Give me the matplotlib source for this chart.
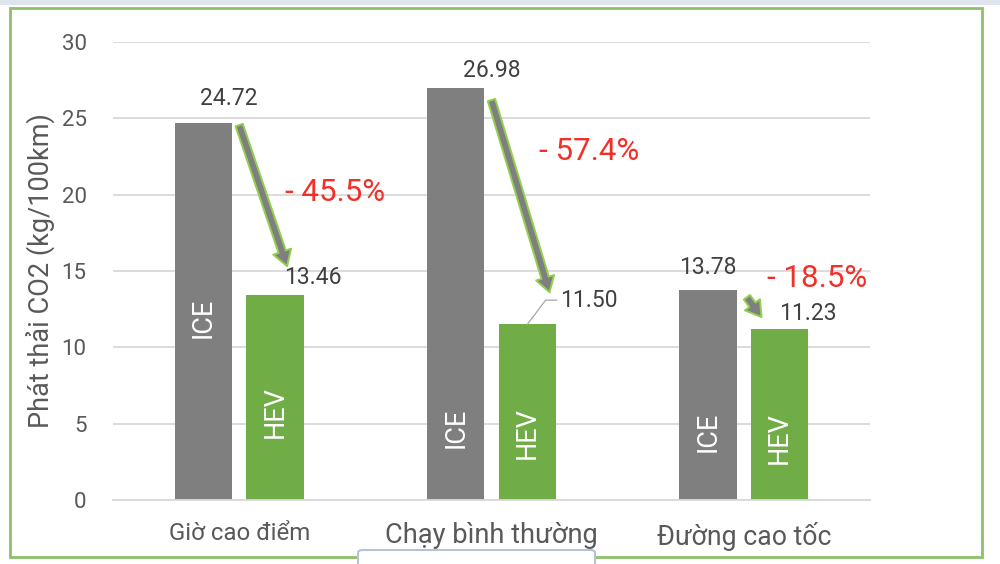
import matplotlib
matplotlib.use("Agg")
import matplotlib.pyplot as plt
from matplotlib.patches import Rectangle, FancyBboxPatch
import numpy as np

plt.rcParams['font.family'] = ['Roboto', 'DejaVu Sans']

# ---- data ----
categories = ["Giờ cao điểm", "Chạy bình thường", "Đường cao tốc"]
ice_values = [24.72, 26.98, 13.78]
hev_values = [13.46, 11.50, 11.23]
pct_labels = ["- 45.5%", "- 57.4%", "- 18.5%"]
series_names = ["ICE", "HEV"]
y_ticks = [0, 5, 10, 15, 20, 25, 30]
y_label = "Phát thải CO2 (kg/100km)"

# ---- style ----
ICE_COLOR = "#7f7f7f"
HEV_COLOR = "#70ad47"
GRID = "#d9d9d9"
TXT = "#404040"
TICK = "#595959"
RED = "#f2302a"

W, H = 1000, 564
fig = plt.figure(figsize=(W / 100, H / 100), dpi=100)
ax = fig.add_axes([113 / W, 1 - 500 / H, 757 / W, 458 / H])

x = np.arange(len(categories))
off = 0.142
bw = 0.226
ice_bars = ax.bar(x - off, ice_values, bw, color=ICE_COLOR, zorder=2)
hev_bars = ax.bar(x + off, hev_values, bw, color=HEV_COLOR, zorder=2)

ax.set_xlim(-0.5, len(categories) - 0.5)
ax.set_ylim(0, 30)
ax.set_yticks(y_ticks)
ax.yaxis.grid(True, color=GRID, lw=1.3, zorder=0)
ax.set_axisbelow(True)
for s in ["top", "right", "left"]:
    ax.spines[s].set_visible(False)
ax.spines["bottom"].set_color(GRID)
ax.spines["bottom"].set_linewidth(1.3)
ax.tick_params(axis="both", length=0)
ax.tick_params(axis="y", labelsize=16, labelcolor=TICK, pad=19)
ax.set_xticks(x)
ax.set_xticklabels(categories, color=TICK)
cat_sizes = [17.3, 19.6, 19.2]
for lab, fs in zip(ax.get_xticklabels(), cat_sizes):
    lab.set_fontsize(fs)
ax.tick_params(axis="x", pad=15.5)

ax.set_ylabel(y_label, fontsize=19.5, color=TICK)
ax.yaxis.set_label_coords((40 - 113) / 757, 0.5)
ax.yaxis.label.set_va("center")

# value labels (offsets in points from bar top center)
ice_lab_off = [(18, 17), (26, 13), (0, 16)]
hev_lab_off = [(27, 12.5), (44, 17.5), (20.5, 11)]
for i in range(len(categories)):
    ax.annotate(f"{ice_values[i]:.2f}", (x[i] - off, ice_values[i]),
                xytext=ice_lab_off[i], textcoords="offset points",
                ha="center", va="center", fontsize=16.5, color=TXT)
    if i == 1:
        ax.annotate(f"{hev_values[i]:.2f}", (x[i] + off, hev_values[i]),
                    xytext=hev_lab_off[i], textcoords="offset points",
                    ha="center", va="center", fontsize=16.5, color=TXT,
                    arrowprops=dict(arrowstyle="-", color="#a6a6a6", lw=0.9,
                                    relpos=(0, 0.5), shrinkA=0, shrinkB=0,
                                    connectionstyle="angle,angleA=180,angleB=53,rad=0"))
    else:
        ax.annotate(f"{hev_values[i]:.2f}", (x[i] + off, hev_values[i]),
                    xytext=hev_lab_off[i], textcoords="offset points",
                    ha="center", va="center", fontsize=16.5, color=TXT)

# in-bar series labels
ice_txt_y = [11.9, 4.75, 4.45]
hev_txt_y = [5.76, 4.39, 4.06]
for i in range(len(categories)):
    ax.text(x[i] - off, ice_txt_y[i], series_names[0], rotation=90, ha="center",
            va="center", color="white", fontsize=19.5, zorder=3)
    ax.text(x[i] + off, hev_txt_y[i], series_names[1], rotation=90, ha="center",
            va="center", color="white", fontsize=19.5, zorder=3)

# arrows ICE -> HEV
tail_dx = [0.0, 0.0, 0.012]
tail_dy = [-0.16, -0.78, -0.5]
tip_dx = [0.19, 0.23, 0.07]
tip_dy = [1.86, 2.1, 0.75]
for i in range(len(categories)):
    ax.annotate("", xy=(x[i] + tip_dx[i], hev_values[i] + tip_dy[i]),
                xytext=(x[i] + tail_dx[i], ice_values[i] + tail_dy[i]),
                arrowprops=dict(arrowstyle="simple,head_length=1.1,head_width=1.35,tail_width=0.55",
                                fc=ICE_COLOR, ec="#92d050", lw=1.4,
                                shrinkA=0, shrinkB=0, mutation_scale=10),
                zorder=4)

# percentage labels
pct_x = [0.38, 1.387, 2.29]
pct_y = [20.17, 22.8, 14.54]
for i in range(len(categories)):
    ax.text(pct_x[i], pct_y[i], pct_labels[i], ha="center", va="center",
            fontsize=22.5, color=RED, zorder=5)

# decorations: top bar, green frame, bottom box
fig.patches.append(Rectangle((0, 1 - 5 / H), 1, 5 / H, transform=fig.transFigure,
                             facecolor="#dfe5ec", edgecolor="none", zorder=0))
fig.patches.append(Rectangle((10 / W, 1 - 557 / H), 972 / W, 549 / H,
                             transform=fig.transFigure, facecolor="none",
                             edgecolor="#8fc06a", lw=2, zorder=1))
fig.patches.append(FancyBboxPatch((358 / W, -0.02), 237 / W, 0.02 + 14 / H,
                                  boxstyle="round,pad=0,rounding_size=0.005",
                                  transform=fig.transFigure, facecolor="white",
                                  edgecolor="#b4c3d6", lw=1.5, zorder=2))

fig.savefig("out.png", dpi=100)
